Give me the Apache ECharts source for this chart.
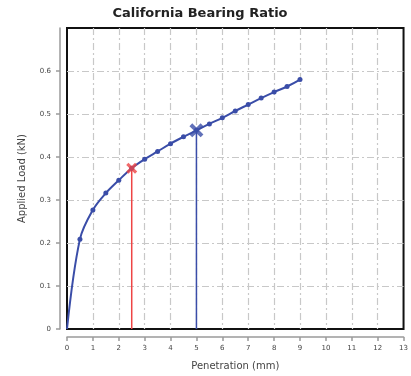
<!DOCTYPE html>
<html>
<head>
<meta charset="utf-8">
<script src="https://cdn.jsdelivr.net/npm/echarts@6/dist/echarts.min.js"></script>
<style>
  html, body { margin: 0; padding: 0; background: #fff; }
  #chart { width: 411px; height: 376px; }
</style>
</head>
<body>
<div id="chart"></div>
<script>
// Penetration test readings
const penetration = [0, 0.5, 1, 1.5, 2, 2.5, 3, 3.5, 4, 4.5, 5, 5.5, 6, 6.5, 7, 7.5, 8, 8.5, 9];
const load = [0, 0.209, 0.277, 0.316, 0.346, 0.374, 0.395, 0.413, 0.431, 0.447, 0.462, 0.477, 0.491, 0.507, 0.522, 0.537, 0.551, 0.564, 0.580];

// Standard penetrations used for the CBR
const cbrPen25 = 2.5;
const cbrLoad25 = 0.374;
const cbrPen50 = 5;
const cbrLoad50 = 0.462;

const blue = '#3a4da8';
const red = '#ee4444';
const gridGray = '#c8c8c8';
const axisGray = '#9a9a9a';
const font = 'DejaVu Sans';
const crossPath = 'path://M2,0 L5,3 L8,0 L10,2 L7,5 L10,8 L8,10 L5,7 L2,10 L0,8 L3,5 L0,2 Z';

const curve = penetration.map((p, i) => i === 0
  ? { value: [p, load[i]], symbol: 'none' }
  : [p, load[i]]);

const gridLines = {
  show: true, showMinLine: false, showMaxLine: false,
  lineStyle: { color: gridGray, width: 1.2, type: [7, 3, 2, 3] }
};

const chart = echarts.init(document.getElementById('chart'), null, { renderer: 'canvas' });
chart.setOption({
  animation: false,
  backgroundColor: '#fff',
  title: {
    text: 'California Bearing Ratio',
    left: 195,
    top: 2,
    textAlign: 'center',
    textStyle: { fontFamily: font, fontWeight: 'bold', fontSize: 13, color: '#222' }
  },
  grid: {
    left: 67, right: 6, top: 28, bottom: 42,
    show: true, borderColor: '#111', borderWidth: 2, backgroundColor: 'transparent'
  },
  xAxis: {
    type: 'value', min: 0, max: 13, interval: 1, offset: 8,
    name: 'Penetration (mm)', nameLocation: 'middle', nameGap: 24,
    nameTextStyle: { fontFamily: font, fontSize: 10, color: '#444' },
    axisLine: { show: true, onZero: false, lineStyle: { color: axisGray, width: 1.5 } },
    axisTick: { show: true, length: 4, lineStyle: { color: axisGray, width: 1.5 } },
    axisLabel: { fontFamily: font, fontSize: 7, color: '#444', margin: 8 },
    splitLine: gridLines
  },
  yAxis: {
    type: 'value', min: 0, max: 0.7, interval: 0.1, offset: 7,
    name: 'Applied Load (kN)', nameLocation: 'middle', nameGap: 33, nameRotate: 90,
    nameTextStyle: { fontFamily: font, fontSize: 10, color: '#444' },
    axisLine: { show: true, onZero: false, lineStyle: { color: axisGray, width: 1.5 } },
    axisTick: { show: true, length: 4, lineStyle: { color: axisGray, width: 1.5 } },
    axisLabel: {
      fontFamily: font, fontSize: 7, color: '#444', margin: 9,
      showMaxLabel: false,
      formatter: v => v === 0 ? '0' : v.toFixed(1)
    },
    splitLine: gridLines
  },
  series: [
    {
      type: 'line',
      data: [[cbrPen25, 0], [cbrPen25, cbrLoad25]],
      symbol: 'none',
      lineStyle: { color: red, width: 1.5 },
      z: 3
    },
    {
      type: 'line',
      data: [[cbrPen50, 0], [cbrPen50, cbrLoad50]],
      symbol: 'none',
      lineStyle: { color: blue, width: 1.5 },
      z: 3
    },
    {
      type: 'line',
      data: curve,
      smooth: 0.35,
      symbol: 'circle',
      symbolSize: 5,
      showSymbol: true,
      itemStyle: { color: blue },
      lineStyle: { color: blue, width: 2 },
      z: 4
    },
    {
      type: 'scatter',
      data: [[cbrPen25, cbrLoad25]],
      symbol: crossPath,
      symbolSize: 11,
      itemStyle: { color: red },
      z: 5
    },
    {
      type: 'scatter',
      data: [[cbrPen50, cbrLoad50]],
      symbol: crossPath,
      symbolSize: 14,
      itemStyle: { color: blue },
      z: 5
    }
  ]
});
</script>
</body>
</html>
